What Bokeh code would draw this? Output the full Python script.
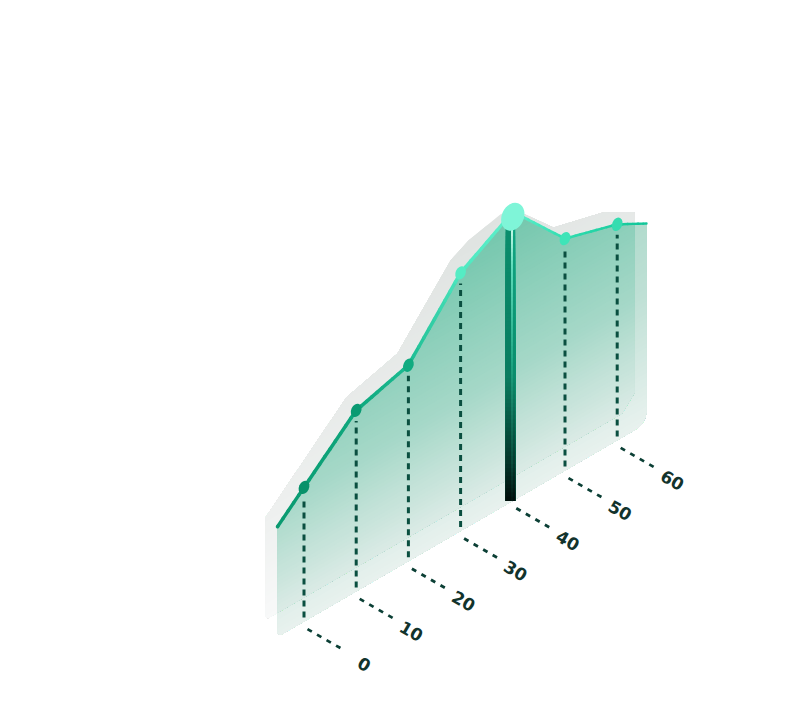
import numpy as np
from bokeh.plotting import figure
from bokeh.models import Range1d, ColumnDataSource
from bokeh.core.properties import value
from bokeh.embed import file_html
from bokeh.resources import INLINE

# ---- data -------------------------------------------------------------
categories = [0, 10, 20, 30, 40, 50, 60]
tick_labels = ["0", "10", "20", "30", "40", "50", "60"]
series_values = [44.7, 60.3, 65.3, 86.0, 96.3, 77.3, 72.0]
edge_x = [-5.08, 65.61]
edge_values = [36.7, 66.6]
shadow_x = [-7.39, 8.1, 17.9, 28.1, 31.5, 37.6, 39.9, 42.0, 47.8, 57.4, 63.32]
shadow_values = [42.1, 66.5, 71.3, 92.1, 95.3, 97.8, 97.5, 93.7, 83.2, 78.6, 72.6]
highlight_category = 40

# ---- isometric projection (axis unit, value) -> page pixels ------------
X0, Y0, KX, KB, KV = 303.5, 621.0, 5.22, 3.02, 3.0


def proj(x, v):
    x, v = np.asarray(x, float), np.asarray(v, float)
    return X0 + KX * x, Y0 - KB * x - KV * v


def clip(poly, a, b, c):
    """keep part of polygon with a*x + b*v <= c"""
    out = []
    n = len(poly)
    for i in range(n):
        p, q = poly[i], poly[(i + 1) % n]
        dp, dq = a * p[0] + b * p[1] - c, a * q[0] + b * q[1] - c
        if dp <= 0:
            out.append(p)
        if dp * dq < 0:
            t = dp / (dp - dq)
            out.append((p[0] + t * (q[0] - p[0]), p[1] + t * (q[1] - p[1])))
    return out


def rounded(p0, c, p1, n=7):
    ts = np.linspace(0, 1, n)
    return [((1 - t) ** 2 * p0[0] + 2 * t * (1 - t) * c[0] + t ** 2 * p1[0],
             (1 - t) ** 2 * p0[1] + 2 * t * (1 - t) * c[1] + t ** 2 * p1[1]) for t in ts]


def hex2rgb(h):
    return np.array([int(h[i:i + 2], 16) for i in (1, 3, 5)], float)


def mix(stops, t):
    ts = [s[0] for s in stops]
    return "#%02x%02x%02x" % tuple(
        int(round(np.interp(t, ts, [hex2rgb(s[1])[k] for s in stops]))) for k in range(3))


def bands(ax, poly, stops, vmin, vmax, n=70):
    """vertical gradient in the plane: painted from the top level downwards"""
    levels = np.linspace(vmax, vmin, n)
    xs, ys, cs = [], [], []
    for lv in levels:
        part = clip(poly, 0, 1, lv)
        if len(part) < 3:
            continue
        sx, sy = proj([q[0] for q in part], [q[1] for q in part])
        xs.append(sx.tolist())
        ys.append(sy.tolist())
        cs.append(mix(stops, (lv - vmin) / (vmax - vmin)))
    ax.patches(xs, ys, fill_color=cs, line_color=None)


p = figure(width=794, height=707, output_backend="svg", toolbar_location=None,
           x_range=Range1d(0, 794), y_range=Range1d(707, 0), min_border=0,
           background_fill_color="#ffffff", border_fill_color="#ffffff")
p.axis.visible = False
p.grid.visible = False
p.outline_line_color = None

top_x = [edge_x[0]] + categories + [edge_x[1]]
top_v = [edge_values[0]] + series_values + [edge_values[1]]

# ---- back (shadow) panel ----------------------------------------------
s_bottom = 8.0
s_poly = list(zip(shadow_x, shadow_values))
s_poly += rounded((shadow_x[-1], 4.5 + s_bottom), (shadow_x[-1], s_bottom), (shadow_x[-1] - 2.4, s_bottom))
s_poly += [(shadow_x[0] + 0.5, s_bottom), (shadow_x[0], s_bottom + 1)]
bands(p, s_poly, [(0, "#f8f9f9"), (0.35, "#eff1f0"), (1, "#dfe3e1")], s_bottom, 98)

# ---- front panel ------------------------------------------------------
m_poly = list(zip(top_x, top_v))
m_poly += rounded((edge_x[1], 4.5), (edge_x[1], 0), (edge_x[1] - 2.4, 0))
m_poly += [(edge_x[0] + 0.6, 0), (edge_x[0], 1)]
bands(p, m_poly, [(0, "#e9f2ef"), (0.45, "#bfe0d5"), (1, "#a0d5c4")], 0, 97)

# ---- part of the back panel seen through the front one ----------------
o_poly = clip(clip(m_poly, 1, 0, shadow_x[-1]), 0, -1, -s_bottom)
o_poly = clip(o_poly, 4.5, -2.4, 4.5 * shadow_x[-1] - 2.4 * (4.5 + s_bottom))
bands(p, o_poly, [(0, "#dcebe6"), (0.4, "#a6d8c8"), (1, "#72c6ac")], s_bottom, 97)

# ---- highlight bar -----------------------------------------------------
hi = categories.index(highlight_category)
bar_v = series_values[hi]
bar_px = proj(highlight_category, 0)[0]
col_off = [-7.0, -5.5, -4.5, -3.5, -2.5, -1.5, -0.5, 0.5, 1.5, 2.0]
col_stops = {
    0: [(0, "#010a08"), (0.15, "#05352a"), (0.45, "#0a7c60"), (1, "#0b8f6e")],
    1: [(0, "#020f0c"), (0.15, "#0a4c3c"), (0.5, "#1fa582"), (0.85, "#5fdcbb"), (1, "#d6fff1")],
    2: [(0, "#010a08"), (0.15, "#063b2f"), (0.45, "#0c8c6c"), (1, "#12a783")],
}
col_kind = [0, 0, 0, 0, 0, 1, 1, 2, 2]
rows = np.linspace(0, 1, 70)
bar_bottom = proj(highlight_category, 0)[1]
bar_top = proj(highlight_category, bar_v)[1] + 8
# painted from the top down, each cell reaches to the bar's foot: no seams
for j in range(len(col_kind)):
    L, R, T, B, C = [], [], [], [], []
    for i in range(len(rows) - 1, 0, -1):
        L.append(bar_px + col_off[j])
        R.append(bar_px + col_off[j + 1] + 0.3)
        T.append(bar_top + (bar_bottom - bar_top) * (1 - rows[i]))
        B.append(bar_bottom)
        C.append(mix(col_stops[col_kind[j]], rows[i]))
    p.quad(left=L, right=R, top=T, bottom=B, fill_color=C, line_color=None)

# ---- vertical dashed drop lines ----------------------------------------
drop_cat = [c for c in categories if c != highlight_category]
drop_val = [v for c, v in zip(categories, series_values) if c != highlight_category]
for c, v in zip(drop_cat, drop_val):
    sx, sy = proj([c, c], [1.3, v - 3.5])
    p.line(sx, sy, line_color="#0a4f40", line_width=3, line_dash="6 5")

# ---- line --------------------------------------------------------------
line_stops = [(-5, "#0a9a70"), (10, "#0fa87e"), (20, "#1dbd93"), (30, "#4fe8c0"),
              (40, "#5ff0cc"), (50, "#2fdcae"), (65.5, "#10c598")]
seg_x = np.unique(np.concatenate([np.asarray(top_x, float), np.arange(-5, 66, 1.0)]))
seg_x = seg_x[(seg_x >= edge_x[0]) & (seg_x <= edge_x[1])]
seg_v = np.interp(seg_x, top_x, top_v)
sxs, sys = proj(seg_x, seg_v)
p.multi_line([[sxs[i], sxs[i + 1]] for i in range(len(seg_x) - 1)],
             [[sys[i], sys[i + 1]] for i in range(len(seg_x) - 1)],
             line_color=[mix(line_stops, seg_x[i]) for i in range(len(seg_x) - 1)],
             line_width=[float(np.interp(seg_x[i], [-5, 30, 45, 65.5], [3.5, 3.5, 2.6, 2.4]))
                         for i in range(len(seg_x) - 1)],
             line_cap="round")

# ---- skewed markers -----------------------------------------------------
mk_col = ["#07916a", "#0a9a72", "#10ab80", "#55ecc4", "#7ff5d8", "#3fe4b8", "#36dcb0"]
mx, my = proj(categories, series_values)
mw = [10 if c != highlight_category else 22 for c in categories]
mh = [14 if c != highlight_category else 29 for c in categories]
my = [y + (5 if c == highlight_category else 0) for y, c in zip(my, categories)]
p.ellipse(x=mx, y=my, width=mw, height=mh, angle=-0.42,
          fill_color=mk_col, line_color=None)

# ---- axis: iso tick dashes and rotated labels --------------------------
for c in categories:
    x0, y0 = proj(c, -2.0)
    p.line([x0 + 3.5, x0 + 38], [y0 + 1.6, y0 + 21.5], line_color="#0b3f35",
           line_width=2.8, line_dash="5 6")
lx = [proj(c, 0)[0] + 65.5 for c in categories]
ly = [proj(c, 0)[1] + 45.5 for c in categories]
src = ColumnDataSource(dict(x=lx, y=ly, t=tick_labels))
p.text(x="x", y="y", text="t", source=src, text_font=value("DejaVu Sans"),
       text_font_size="17px", text_font_style="bold", text_color="#12332c",
       text_align="right", text_baseline="middle", angle=-0.52)

open("out.html", "w").write(file_html(p, INLINE))
